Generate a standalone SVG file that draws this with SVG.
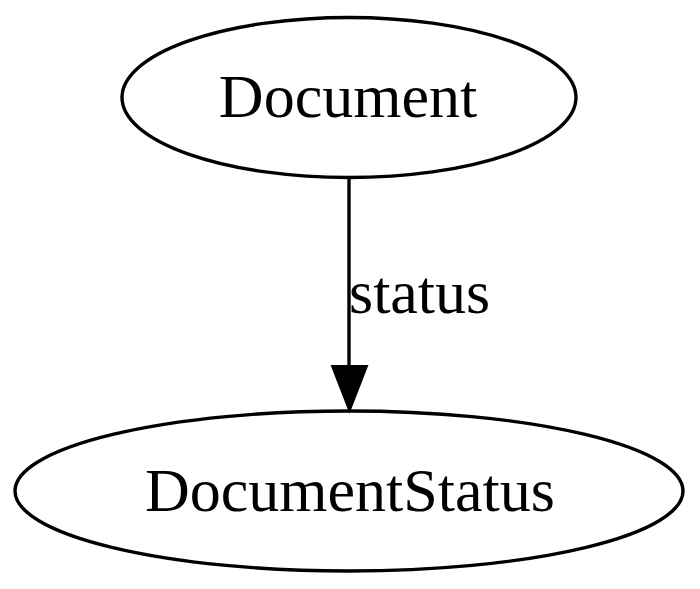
<svg xmlns="http://www.w3.org/2000/svg" width="700" height="589" viewBox="0 0 700 589">
<style>
.node ellipse{fill:none;stroke:#000;stroke-width:3.4}
text{font-family:"Liberation Serif","Times New Roman",serif;font-size:62px;fill:#000}
.edge line{stroke:#000;stroke-width:3.4}
</style>
<rect width="700" height="589" fill="#fff"/>
<g id="connectors" class="edge">
<line x1="349" y1="178" x2="349" y2="368"/>
<polygon points="332,366 367,366 349.5,411" fill="#000" stroke="#000" stroke-width="2"/>
<text x="349" y="313">status</text>
</g>
<g id="Document" class="node">
<ellipse cx="349" cy="97.5" rx="227" ry="80"/>
<text x="348" y="117" text-anchor="middle">Document</text>
</g>
<g id="DocumentStatus" class="node">
<ellipse cx="349" cy="491" rx="334" ry="80"/>
<text x="350" y="511" text-anchor="middle">DocumentStatus</text>
</g>
</svg>
